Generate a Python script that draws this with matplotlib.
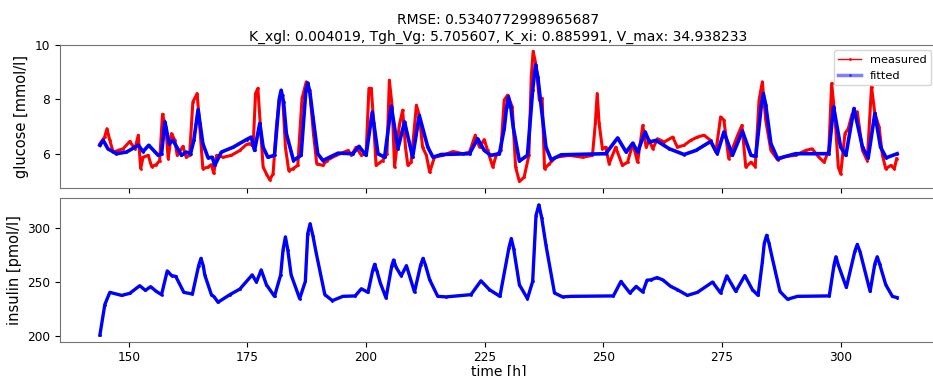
import numpy as np
import matplotlib
matplotlib.use("Agg")
import matplotlib.pyplot as plt
from matplotlib.lines import Line2D

# fit parameters shown in the title
rmse = 0.5340772998965687
params = {"K_xgl": 0.004019, "Tgh_Vg": 5.705607, "K_xi": 0.885991, "V_max": 34.938233}

# measured glucose (time [h], mmol/l)
t_meas = [143.9, 144.9, 145.4, 146.0, 146.7, 147.7, 148.8, 150.2, 151.3, 152.0, 152.5, 153.0,
          154.1, 154.8, 155.8, 156.5, 157.1, 157.8, 158.3, 159.0, 159.7, 160.2, 161.4, 162.1,
          162.8, 163.5, 164.4, 164.9, 165.6, 166.7, 167.4, 167.9, 168.5, 169.9, 171.6, 173.4,
          174.8, 175.5, 176.2, 176.7, 177.2, 177.7, 178.3, 179.0, 179.7, 180.4, 181.1, 181.8,
          182.4, 183.0, 183.7, 184.6, 185.6, 186.5, 187.4, 188.1, 188.9, 189.6, 190.9, 191.7,
          193.7, 196.2, 196.9, 197.9, 199.0, 200.0, 200.6, 201.1, 201.6, 202.1, 203.5, 204.4,
          204.9, 205.5, 206.0, 207.0, 207.7, 208.3, 208.8, 209.5, 210.6, 211.2, 211.9, 212.7,
          213.4, 214.4, 216.2, 218.3, 220.4, 221.8, 223.0, 223.9, 224.9, 225.6, 226.7, 227.4,
          228.4, 229.1, 229.8, 230.8, 231.5, 232.3, 233.3, 234.3, 234.8, 235.2, 235.8, 236.5,
          237.1, 237.6, 238.6, 240.0, 242.8, 245.6, 247.7, 248.3, 248.7, 249.1, 249.8, 250.5,
          251.2, 252.6, 254.0, 255.1, 256.2, 257.2, 258.3, 259.0, 259.7, 260.4, 261.4, 262.8,
          264.6, 265.6, 267.0, 268.4, 269.8, 271.2, 272.6, 273.7, 274.7, 275.4, 276.4, 277.6,
          278.3, 279.2, 280.0, 281.1, 282.0, 282.8, 283.5, 284.2, 285.3, 286.7, 288.4, 290.5,
          292.6, 294.0, 295.4, 296.5, 297.5, 298.1, 298.8, 299.5, 300.0, 300.9, 301.6, 302.4,
          303.5, 304.6, 305.6, 306.5, 307.2, 308.1, 308.8, 309.5, 310.6, 311.3, 311.8]
g_meas = [6.36, 6.61, 6.92, 6.49, 6.06, 6.12, 6.18, 6.45, 6.18, 6.68, 5.45, 5.87,
          5.94, 5.53, 5.60, 5.75, 7.45, 6.98, 5.82, 6.74, 6.49, 5.94, 6.27, 5.87,
          5.94, 7.90, 8.21, 7.11, 5.45, 5.51, 5.60, 5.28, 5.94, 5.87, 5.94, 6.12,
          6.34, 6.37, 6.27, 8.21, 8.40, 7.11, 5.51, 5.26, 5.04, 5.26, 6.98, 8.09,
          8.15, 6.24, 5.38, 5.45, 5.57, 8.03, 8.64, 8.34, 6.74, 5.63, 5.57, 5.75,
          5.94, 6.12, 5.94, 6.24, 5.94, 6.00, 8.40, 8.40, 7.11, 5.57, 5.75, 6.00,
          8.70, 7.72, 5.51, 7.04, 7.60, 6.24, 5.57, 5.69, 7.78, 7.41, 6.24, 5.94,
          5.32, 5.87, 5.94, 6.08, 6.00, 6.06, 6.68, 6.24, 6.52, 6.12, 5.51, 5.94,
          6.12, 7.97, 8.15, 7.72, 5.51, 4.98, 5.14, 5.94, 8.83, 9.76, 9.26, 7.97,
          8.03, 5.45, 5.63, 5.87, 5.94, 5.87, 5.94, 7.11, 8.21, 7.11, 6.18, 6.24,
          5.63, 6.24, 5.57, 5.69, 6.37, 5.69, 7.04, 6.24, 6.49, 6.18, 6.55, 6.43,
          6.61, 6.24, 6.31, 6.49, 6.61, 6.68, 6.49, 6.06, 7.35, 7.23, 5.82, 6.37,
          6.68, 7.04, 5.51, 5.69, 5.53, 7.97, 8.64, 7.23, 6.12, 5.78, 5.90, 5.94,
          6.12, 6.18, 5.87, 5.69, 6.12, 8.58, 7.35, 5.51, 5.26, 6.74, 6.92, 7.45,
          7.54, 6.12, 5.75, 8.46, 7.48, 6.98, 5.94, 5.45, 5.57, 5.45, 5.82]

# fitted glucose
t_fit = [143.9, 144.6, 145.6, 147.4, 149.5, 152.0, 153.0, 154.2, 156.2, 156.9, 157.6, 158.5,
         159.3, 161.1, 162.1, 163.0, 163.7, 164.6, 165.6, 166.7, 167.6, 168.1, 169.5, 172.0,
         174.8, 175.8, 176.5, 177.6, 178.3, 179.3, 180.7, 181.7, 182.1, 182.6, 183.2, 184.7,
         186.3, 187.3, 187.7, 188.2, 188.8, 189.8, 190.9, 192.3, 194.1, 197.2, 198.5, 200.0,
         201.3, 202.5, 203.9, 205.3, 206.7, 208.1, 209.8, 211.2, 213.0, 214.1, 215.8, 221.8,
         223.5, 224.9, 226.3, 228.1, 229.1, 229.6, 230.0, 230.5, 231.0, 232.3, 234.0, 235.1,
         235.7, 236.2, 236.9, 237.9, 239.0, 241.1, 250.5, 253.0, 254.8, 256.2, 257.2, 258.8,
         259.7, 261.1, 263.9, 267.0, 269.5, 272.6, 274.0, 275.4, 277.2, 279.3, 281.1, 282.1,
         283.3, 283.7, 284.2, 285.3, 286.7, 288.4, 290.5, 297.5, 298.5, 300.0, 301.1, 302.8,
         304.6, 305.8, 307.2, 308.4, 309.6, 311.9]
g_fit = [6.31, 6.49, 6.18, 6.00, 6.06, 6.31, 6.08, 6.31, 5.94, 6.00, 7.17, 6.37,
         6.49, 5.94, 6.06, 6.00, 6.49, 7.62, 6.37, 5.85, 5.87, 5.57, 6.06, 6.24,
         6.52, 6.61, 6.12, 7.11, 6.24, 5.87, 5.94, 8.00, 8.33, 7.90, 6.74, 5.75,
         5.94, 8.30, 8.60, 8.20, 7.35, 6.00, 5.75, 5.87, 6.02, 6.00, 6.27, 5.94,
         7.53, 6.00, 5.87, 7.75, 6.18, 7.17, 5.87, 7.41, 6.24, 5.87, 5.97, 6.00,
         6.55, 6.12, 5.94, 6.00, 6.92, 7.70, 8.09, 7.70, 6.98, 5.73, 5.94, 8.34,
         9.26, 8.80, 7.72, 6.24, 5.78, 5.96, 6.00, 6.58, 6.06, 6.39, 6.06, 6.80,
         6.43, 6.49, 6.18, 5.97, 6.12, 6.45, 6.00, 6.80, 5.94, 6.83, 5.94, 5.90,
         7.80, 8.21, 7.80, 6.37, 5.82, 5.90, 6.00, 6.00, 7.72, 6.24, 5.94, 7.66,
         6.24, 5.85, 7.48, 6.24, 5.85, 6.00]

# fitted insulin [pmol/l]
t_ins = [143.9, 144.95, 146.0, 148.5, 150.2, 152.3, 153.5, 154.6, 155.8, 156.9, 158.1, 159.0,
         159.9, 161.6, 163.4, 164.7, 165.2, 165.7, 166.0, 167.4, 168.0, 168.8, 171.3, 173.4,
         176.0, 176.9, 177.9, 179.0, 180.7, 182.0, 182.5, 183.0, 183.5, 184.2, 186.0, 187.2,
         187.7, 188.2, 188.8, 189.5, 191.3, 192.9, 195.1, 197.7, 199.0, 200.4, 201.4, 201.8,
         202.3, 203.0, 204.2, 205.4, 205.8, 206.3, 207.4, 208.5, 210.2, 211.5, 212.0, 212.5,
         213.4, 215.1, 216.9, 222.1, 224.2, 226.0, 228.2, 230.1, 230.6, 231.1, 232.3, 234.0,
         235.1, 235.8, 236.4, 237.0, 237.9, 239.7, 241.4, 243.2, 252.1, 253.7, 255.6, 256.9,
         258.3, 259.2, 260.0, 261.3, 262.5, 264.2, 265.6, 267.7, 269.8, 273.0, 274.7, 276.0,
         277.9, 279.8, 281.4, 282.6, 283.5, 283.9, 284.4, 284.9, 285.6, 287.2, 288.8, 290.9,
         297.6, 298.6, 299.0, 299.5, 301.2, 303.0, 303.5, 304.1, 306.2, 307.2, 307.7, 308.2,
         309.5, 310.9, 311.9]
ins = [200.5, 229.1, 240.4, 237.6, 239.5, 246.6, 242.3, 245.7, 241.3, 238.3, 260.4, 256.1,
       255.2, 240.4, 238.9, 265.0, 272.1, 265.0, 256.7, 238.3, 236.2, 231.2, 238.3, 243.5,
       256.7, 250.0, 261.3, 247.5, 236.7, 256.7, 280.0, 292.1, 280.0, 256.7, 234.6, 250.6,
       295.0, 304.4, 293.0, 276.8, 238.3, 232.7, 236.7, 237.1, 243.8, 240.4, 261.0, 266.6,
       260.0, 249.1, 235.2, 265.0, 270.6, 264.0, 255.8, 265.3, 240.8, 266.0, 272.1, 266.0,
       252.1, 236.7, 236.2, 238.3, 251.2, 242.9, 236.7, 282.0, 290.6, 281.0, 247.5, 234.6,
       250.6, 312.0, 322.0, 310.0, 284.4, 239.8, 236.2, 236.7, 237.1, 250.6, 239.8, 245.9,
       240.8, 251.8, 252.1, 254.2, 252.1, 245.9, 242.9, 237.6, 240.4, 250.0, 239.8, 255.8,
       241.3, 256.1, 242.9, 237.6, 269.0, 286.0, 293.6, 286.0, 272.1, 241.3, 234.0, 236.7,
       237.1, 266.0, 273.6, 266.0, 245.0, 279.0, 285.1, 278.0, 241.3, 267.0, 273.6, 267.0,
       247.5, 236.7, 235.5]

fig = plt.figure(figsize=(9.33, 3.76), dpi=100)
ax1 = fig.add_axes([0.0643, 0.500, 0.940, 0.381])
ax2 = fig.add_axes([0.0643, 0.0912, 0.940, 0.3814], sharex=ax1)

ax1.plot(t_meas, g_meas, 'r.-', lw=2.2, ms=2)
ax1.plot(t_fit, g_fit, 'b.-', lw=2.6, ms=2)
ax2.plot(t_ins, ins, 'b.-', lw=2.4, ms=2)

title = "RMSE: %s\n" % rmse + ", ".join("%s: %f" % (k, v) for k, v in params.items())
ax1.set_title(title, fontsize=10, pad=3)
ax1.set_ylabel("glucose [mmol/l]", fontsize=10.5)
ax2.set_ylabel("insulin [pmol/l]", fontsize=10.5)
ax2.set_xlabel("time [h]", fontsize=10, labelpad=0)
ax1.set_yticks([6, 8, 10])
ax2.set_yticks([200, 250, 300])
ax2.set_xticks([150, 175, 200, 225, 250, 275, 300])
ax1.tick_params(labelbottom=False)
for ax in (ax1, ax2):
    ax.tick_params(labelsize=8.7)
    for s in ax.spines.values():
        s.set_color('0.45')

handles = [Line2D([], [], color='red', lw=1, marker='.', ms=2),
           Line2D([], [], color='blue', lw=2.5, alpha=0.5, marker='.', ms=2)]
ax1.legend(handles, ["measured", "fitted"], loc='upper right', fontsize=8.2)

fig.savefig("out.png", dpi=100)
